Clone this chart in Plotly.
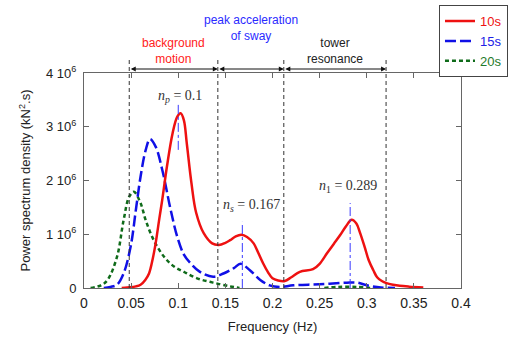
import plotly.graph_objects as go

# ---- data ----
freq_10s = [0.040, 0.046, 0.055, 0.060, 0.065, 0.069, 0.073, 0.076, 0.080, 0.083, 0.088, 0.094,
            0.099, 0.1026, 0.106, 0.109, 0.114, 0.119, 0.127, 0.136, 0.143, 0.150, 0.155, 0.161,
            0.167, 0.173, 0.180, 0.185, 0.190, 0.195, 0.200, 0.206, 0.213, 0.220, 0.229, 0.243,
            0.250, 0.258, 0.265, 0.272, 0.278, 0.284, 0.289, 0.293, 0.298, 0.302, 0.307, 0.311,
            0.316, 0.321, 0.328, 0.335, 0.345, 0.360]
psd_10s = [0.0, 0.01, 0.03, 0.06, 0.15, 0.27, 0.55, 0.83, 1.30, 1.64, 2.26, 2.88,
           3.19, 3.25, 3.12, 2.70, 1.95, 1.40, 1.02, 0.83, 0.80, 0.84, 0.89, 0.96,
           0.99, 0.95, 0.83, 0.65, 0.46, 0.30, 0.18, 0.14, 0.13, 0.20, 0.30, 0.35,
           0.45, 0.65, 0.82, 0.99, 1.15, 1.27, 1.20, 1.02, 0.75, 0.52, 0.33, 0.20,
           0.13, 0.09, 0.06, 0.04, 0.025, 0.01]

freq_15s = [0.021, 0.028, 0.035, 0.042, 0.0495, 0.055, 0.060, 0.0655, 0.070, 0.076, 0.083, 0.092,
            0.099, 0.106, 0.113, 0.123, 0.137, 0.148, 0.159, 0.166, 0.176, 0.187, 0.197, 0.208,
            0.222, 0.250, 0.279, 0.290, 0.300, 0.315, 0.330]
psd_15s = [0.0, 0.02, 0.06, 0.27, 0.77, 1.45, 2.07, 2.57, 2.77, 2.63, 2.20, 1.45,
           0.95, 0.62, 0.46, 0.30, 0.21, 0.27, 0.37, 0.45, 0.33, 0.15, 0.05, 0.02,
           0.05, 0.07, 0.10, 0.10, 0.05, 0.01, 0.0]

freq_20s = [0.007, 0.018, 0.025, 0.035, 0.042, 0.048, 0.053, 0.060, 0.0655, 0.074, 0.085, 0.0955,
            0.106, 0.120, 0.137, 0.155, 0.165, None, 0.255, 0.270, 0.290, 0.305]
psd_20s = [0.0, 0.05, 0.15, 0.58, 1.26, 1.70, 1.79, 1.58, 1.26, 0.89, 0.58, 0.40,
           0.30, 0.18, 0.10, 0.03, 0.0, None, 0.0, 0.02, 0.02, 0.0]

SCALE = 1e6
x_ticks = [0, 0.05, 0.1, 0.15, 0.2, 0.25, 0.3, 0.35, 0.4]
x_tick_labels = ["0", "0.05", "0.1", "0.15", "0.2", "0.25", "0.3", "0.35", "0.4"]
y_ticks = [0, 1e6, 2e6, 3e6, 4e6]
y_tick_labels = ["0", "1 10<sup>6</sup>", "2 10<sup>6</sup>", "3 10<sup>6</sup>", "4 10<sup>6</sup>"]

region_bounds = [0.048, 0.142, 0.212, 0.3205]
region_labels = ["background<br>motion", "peak acceleration<br>of sway", "tower<br>resonance"]
region_colors = ["#ff2020", "#2a2aff", "#222222"]

peak_freqs = [0.100, 0.168, 0.2824]
peak_line_lo = [2.57e6, 0.0, 0.0]
peak_line_hi = [3.44e6, 1.23e6, 1.58e6]
peak_labels = ["<i>n</i><sub><i>p</i></sub> = 0.1", "<i>n</i><sub><i>s</i></sub> = 0.167",
               "<i>n</i><sub>1</sub> = 0.289"]
peak_label_x = [0.102, 0.178, 0.280]
peak_label_y = [3.57e6, 1.54e6, 1.88e6]

FONT = "Liberation Sans, Arial, sans-serif"

fig = go.Figure()
fig.add_trace(go.Scatter(
    x=freq_20s, y=[None if v is None else v * SCALE for v in psd_20s], mode="lines",
    line=dict(color="#0f6b1a", width=2.5, dash="4px,3px", shape="spline"),
    name="<span style='color:#1f7a2a'>20s</span>", connectgaps=False))
fig.add_trace(go.Scatter(
    x=freq_15s, y=[v * SCALE for v in psd_15s], mode="lines",
    line=dict(color="#1010e6", width=2.5, dash="11px,4px", shape="spline"),
    name="<span style='color:#2020e6'>15s</span>"))
fig.add_trace(go.Scatter(
    x=freq_10s, y=[v * SCALE for v in psd_10s], mode="lines",
    line=dict(color="#ee1111", width=2.5, shape="spline"),
    name="<span style='color:#ee1111'>10s</span>"))

shapes = []
for b in region_bounds:
    shapes.append(dict(type="line", xref="x", yref="paper", x0=b, x1=b, y0=0, y1=1.0744,
                       line=dict(color="#333333", width=1, dash="4px,3px"), layer="above"))
for f, lo, hi in zip(peak_freqs, peak_line_lo, peak_line_hi):
    shapes.append(dict(type="line", xref="x", yref="y", x0=f, x1=f, y0=lo, y1=hi,
                       line=dict(color="#3a3aff", width=1, dash="dashdot"), layer="above"))

annotations = []
arrow_y = 1.0186
for i in range(3):
    a, b = region_bounds[i], region_bounds[i + 1]
    annotations.append(dict(x=b, y=arrow_y, ax=a, ay=0, xref="x", yref="paper",
                            axref="x", ayref="pixel", text="", showarrow=True,
                            arrowhead=2, startarrowhead=2, arrowside="end+start",
                            arrowsize=1, startarrowsize=1, arrowwidth=1, arrowcolor="#111111"))
label_y = [1.10, 1.209, 1.10]
for i in range(3):
    annotations.append(dict(x=(region_bounds[i] + region_bounds[i + 1]) / 2, y=label_y[i],
                            xref="x", yref="paper", yanchor="middle", xanchor="center",
                            text=region_labels[i], showarrow=False,
                            font=dict(family=FONT, size=12, color=region_colors[i])))
for t, x, y in zip(peak_labels, peak_label_x, peak_label_y):
    annotations.append(dict(x=x, y=y, xref="x", yref="y", text=t, showarrow=False,
                            font=dict(family="Liberation Serif, Times New Roman, serif",
                                      size=14, color="#333333")))

fig.update_layout(
    width=510, height=337,
    margin=dict(l=84, r=49, t=73, b=49, autoexpand=False),
    paper_bgcolor="white", plot_bgcolor="white",
    font=dict(family=FONT, size=13, color="#222222"),
    shapes=shapes, annotations=annotations,
    showlegend=True,
    legend=dict(x=0.9416, y=1.316, xanchor="left", yanchor="top",
                bgcolor="white", bordercolor="#444444", borderwidth=1,
                font=dict(family=FONT, size=13), traceorder="reversed",
                tracegroupgap=0, itemwidth=30),
    xaxis=dict(range=[0, 0.4], tickvals=x_ticks, ticktext=x_tick_labels,
               ticks="inside", ticklen=5, tickcolor="#666666", mirror="ticks",
               showline=True, linecolor="#666666", linewidth=1, showgrid=False,
               zeroline=False, tickfont=dict(size=14), ticklabelstandoff=2,
               title=dict(text="Frequency (Hz)", font=dict(size=13), standoff=12)),
    yaxis=dict(range=[0, 4e6], tickvals=y_ticks, ticktext=y_tick_labels,
               ticks="inside", ticklen=5, tickcolor="#666666", mirror="ticks",
               showline=True, linecolor="#666666", linewidth=1, showgrid=False,
               zeroline=False, tickfont=dict(size=13), ticklabelstandoff=4,
               title=dict(text="Power spectrum density (kN<sup>2</sup>.s)", font=dict(size=13), standoff=12)),
)

fig.write_html("out.html", config={"displayModeBar": False},
               post_script="document.body.style.margin='0';document.body.style.overflow='hidden';")
